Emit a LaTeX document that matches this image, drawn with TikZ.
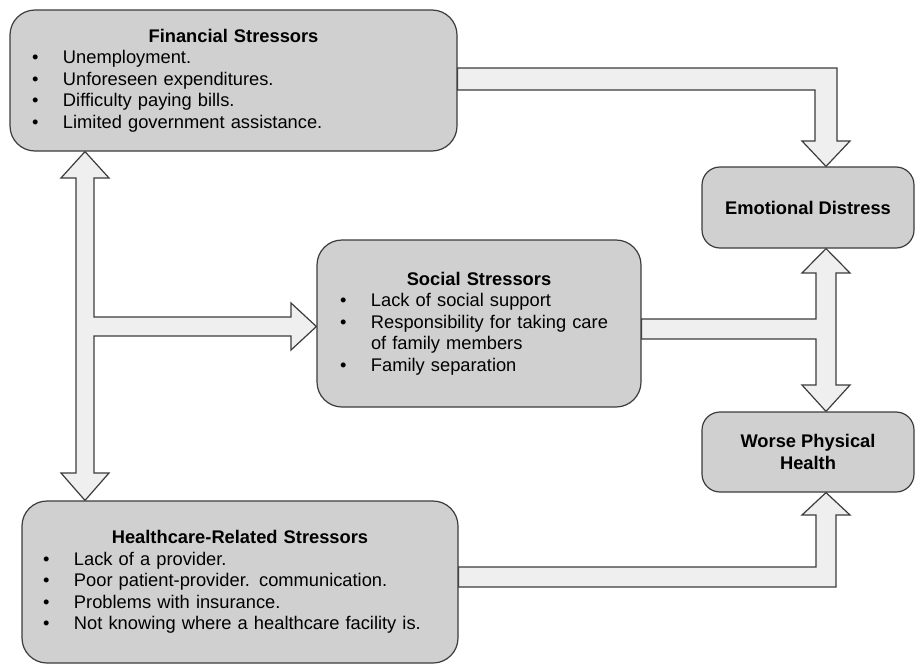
\documentclass[tikz,border=0pt]{standalone}
\usepackage{fontspec}
\setmainfont{Liberation Sans}
\usetikzlibrary{backgrounds}

\definecolor{boxgray}{HTML}{D0D0D0}
\definecolor{arrowgray}{HTML}{EFEFEF}
\definecolor{edgegray}{HTML}{3C3C3C}

\tikzset{
    stressbox/.style={draw=edgegray, fill=boxgray, line width=1.2pt, rounded corners=25pt,
        align=left, font=\fontsize{18.3}{21.5}\selectfont},
    outcomebox/.style={draw=edgegray, fill=boxgray, line width=1.2pt, rounded corners=18pt,
        align=center, minimum width=212pt, font=\bfseries\fontsize{18.3}{21.5}\selectfont},
    blockarrow/.style={draw=edgegray, fill=arrowgray, line width=1.2pt, line join=miter},
}

\newcommand{\boxtitle}[1]{{\centering\noindent\bfseries #1\par}}
\newcommand{\bitem}[1]{\par\hangindent=31pt\noindent\makebox[31pt][l]{\textbullet}#1}

\begin{document}
\begin{tikzpicture}[x=1pt,y=-1pt]
                \useasboundingbox (0,0) rectangle (915,664);

                \node[stressbox, minimum width=447pt, minimum height=141pt, inner xsep=22pt, text width=403pt] at (233.5,80.5) (fin) {%
                    \boxtitle{Financial Stressors}%
                    \bitem{Unemployment.}%
                    \bitem{Unforeseen expenditures.}%
                    \bitem{Difficulty paying bills.}%
                    \bitem{Limited government assistance.}};
                \node[stressbox, minimum width=324pt, minimum height=167pt, inner xsep=23pt, text width=278pt] at (479,323.5) (soc) {%
                    \boxtitle{Social Stressors}%
                    \bitem{Lack of social support}%
                    \bitem{Responsibility for taking care\newline of family members}%
                    \bitem{Family separation}};
                \node[stressbox, minimum width=436pt, minimum height=162pt, inner xsep=21pt, text width=394pt] at (240,582) (hlth) {%
                    \boxtitle{Healthcare-Related Stressors}%
                    \bitem{Lack of a provider.}%
                    \bitem{Poor patient-provider. communication.}%
                    \bitem{Problems with insurance.}%
                    \bitem{Not knowing where a healthcare facility is.}};

                \node[outcomebox, minimum height=81pt] at (808,207.5) (emo) {Emotional Distress};
                \node[outcomebox, minimum height=80pt] at (808,452) (wph) {Worse Physical\\Health};

                \begin{scope}[on background layer]
                    \fill[white] (0,0) rectangle (915,664);
                    % financial -> emotional
                    \draw[blockarrow] (fin.east |- 0,68) -- (837,68) -- (837,141) -- (850,141) -- (826,0 |- emo.north)
                        -- (802,141) -- (815,141) -- (815,90) -- (fin.east |- 0,90) -- cycle;
                    % financial <-> healthcare, branch to social
                    \draw[blockarrow] (85,0 |- fin.south) -- (109,178) -- (94,178) -- (94,317) -- (291,317) -- (291,303)
                        -- (soc.west |- 0,326.5) -- (291,350) -- (291,336) -- (94,336) -- (94,473) -- (109,473)
                        -- (85,0 |- hlth.north) -- (61,473) -- (76,473) -- (76,178) -- (61,178) -- cycle;
                    % social -> emotional / physical
                    \draw[blockarrow] (soc.east |- 0,319) -- (816,319) -- (816,273) -- (802,273) -- (826,0 |- emo.south)
                        -- (850,273) -- (836,273) -- (836,385) -- (850,385) -- (826,0 |- wph.north) -- (802,385)
                        -- (816,385) -- (816,339) -- (soc.east |- 0,339) -- cycle;
                    % healthcare -> physical
                    \draw[blockarrow] (hlth.east |- 0,567) -- (816,567) -- (816,515) -- (802,515) -- (826,0 |- wph.south)
                        -- (850,515) -- (836,515) -- (836,587) -- (hlth.east |- 0,587) -- cycle;
                \end{scope}
\end{tikzpicture}
\end{document}
